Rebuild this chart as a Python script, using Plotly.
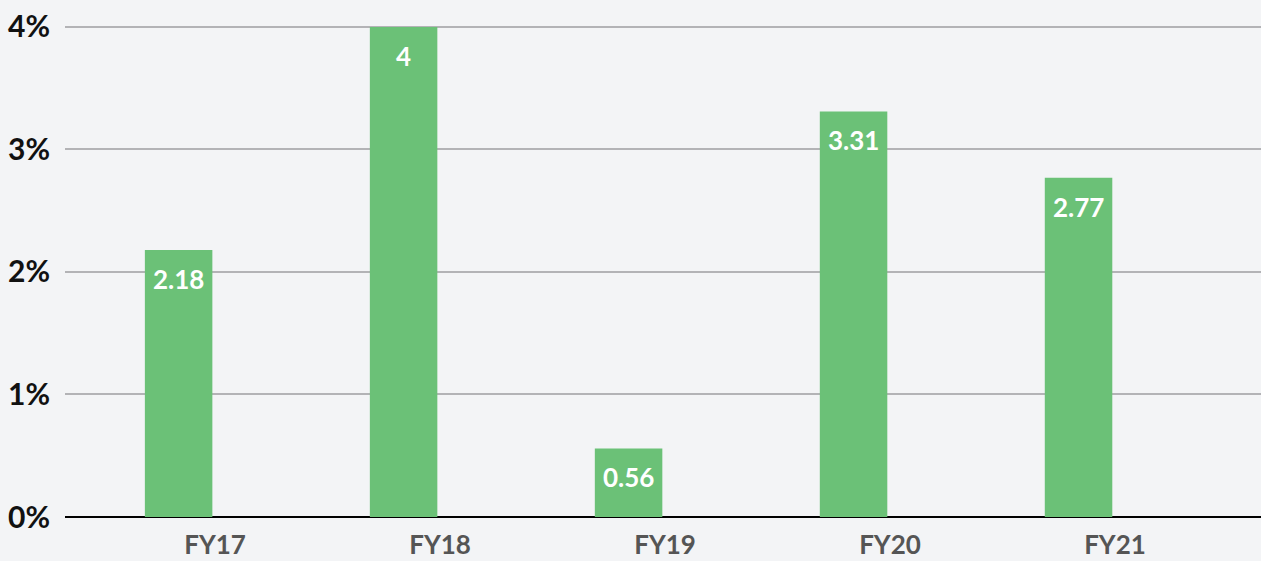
import plotly.graph_objects as go

categories = ["FY17", "FY18", "FY19", "FY20", "FY21"]
values = [2.18, 4, 0.56, 3.31, 2.77]
value_labels = ["2.18", "4", "0.56", "3.31", "2.77"]
y_ticks = [0, 1, 2, 3, 4]
y_tick_labels = ["0%", "1%", "2%", "3%", "4%"]

BAR_W = 0.30
BAR_OFF = -0.312
FONT = "Lato"

fig = go.Figure()
fig.add_trace(go.Bar(
    x=categories, y=values,
    width=BAR_W, offset=BAR_OFF,
    marker=dict(color="#6bc177", line=dict(width=0)),
    hoverinfo="skip",
))

for c, v, t in zip(categories, values, value_labels):
    fig.add_annotation(
        x=c, y=v, text=t, showarrow=False,
        xanchor="center", yanchor="top",
        xshift=(BAR_OFF + BAR_W / 2) * 225, yshift=-11,
        font=dict(family=FONT, size=26, color="white", weight=700),
    )

fig.update_layout(
    width=1261, height=561,
    margin=dict(l=65, r=0, t=0, b=44),
    paper_bgcolor="#f3f4f6", plot_bgcolor="#f3f4f6",
    showlegend=False,
    font=dict(family=FONT, weight=700),
    xaxis=dict(
        type="category", range=[-0.667, 4.649],
        showgrid=False, showline=False, zeroline=False, ticks="",
        tickfont=dict(family=FONT, size=26, color="#555555", weight=700),
        ticklabelstandoff=10,
    ),
    yaxis=dict(
        range=[0, 4.22], tickvals=y_ticks, ticktext=y_tick_labels,
        showgrid=True, gridcolor="#b3b3b6", gridwidth=2,
        zeroline=True, zerolinecolor="#000000", zerolinewidth=2,
        showline=False, ticks="",
        tickfont=dict(family=FONT, size=30, color="#111111", weight=700),
        ticklabelstandoff=14,
    ),
)

fig.write_html(
    "out.html",
    config={"displayModeBar": False},
    post_script="document.body.style.margin='0';document.body.style.overflow='hidden';",
)
